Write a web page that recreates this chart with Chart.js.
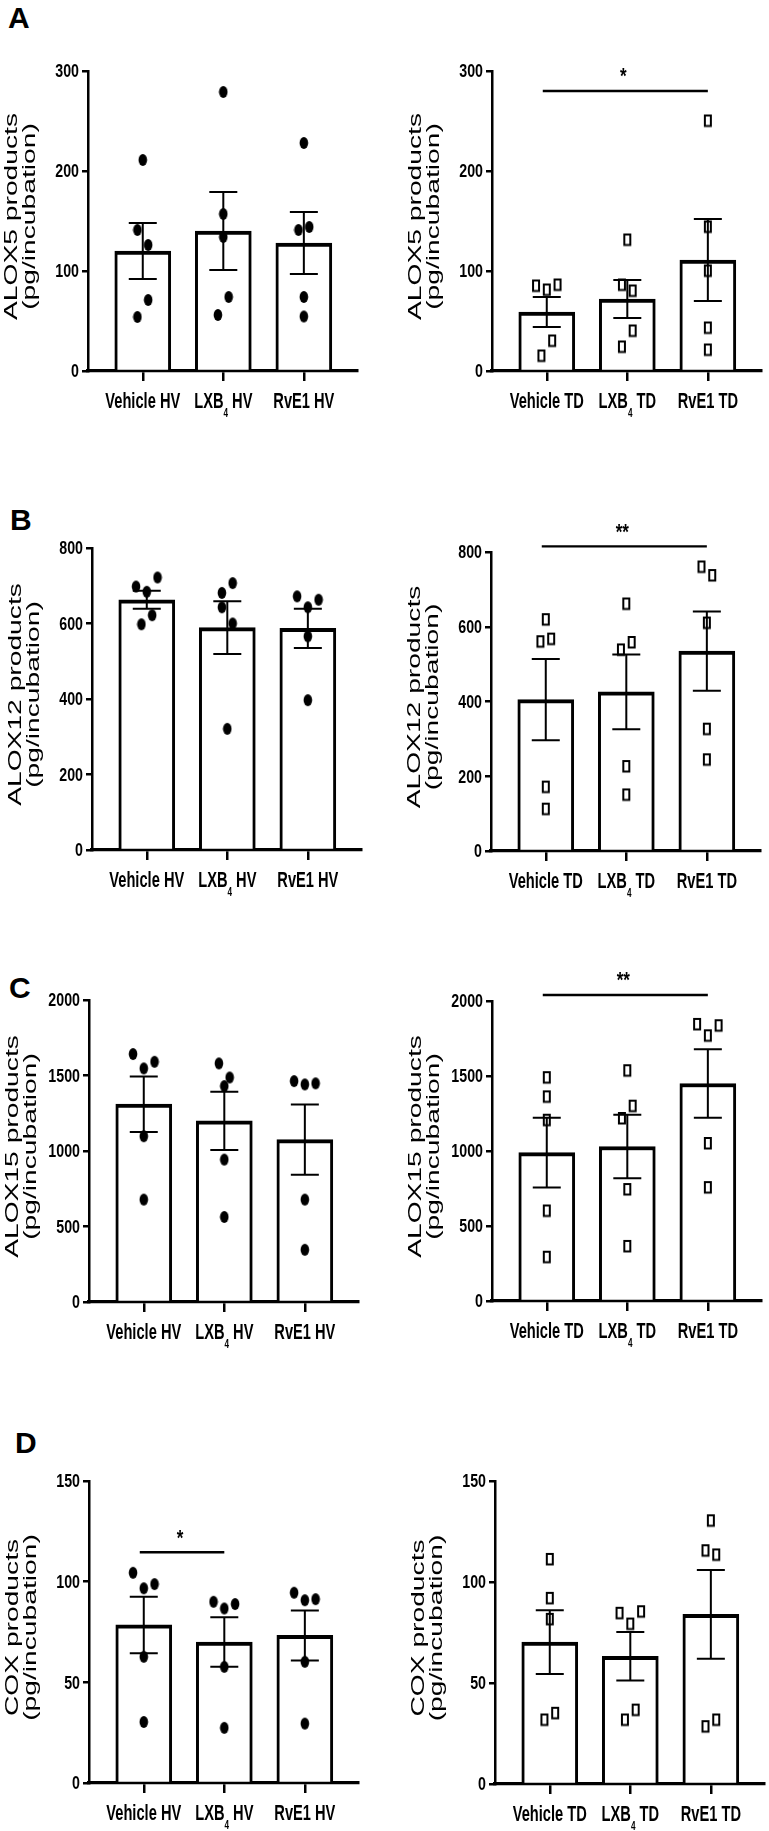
<!DOCTYPE html>
<html>
<head>
<meta charset="utf-8">
<script src="https://cdn.jsdelivr.net/npm/chart.js@4.4.1/dist/chart.umd.min.js"></script>
<style>
html,body{margin:0;padding:0;background:#fff;}
body{width:769px;height:1831px;overflow:hidden;position:relative;}
canvas{position:absolute;}
.lt{position:absolute;font:bold 30px "Liberation Sans",Arial,sans-serif;line-height:30px;color:#000;}
</style>
</head>
<body>
<div class="lt" style="left:8px;top:3px">A</div>
<div class="lt" style="left:10px;top:505px">B</div>
<div class="lt" style="left:9px;top:973px">C</div>
<div class="lt" style="left:15px;top:1428px">D</div>
<script>
// ---------- categories ----------
const hvLabels = ['Vehicle HV', 'LXB₄ HV', 'RvE1 HV'];
const tdLabels = ['Vehicle TD', 'LXB₄ TD', 'RvE1 TD'];

// ---------- y tick labels ----------
const alox5Ticks  = [0, 100, 200, 300];
const alox12Ticks = [0, 200, 400, 600, 800];
const alox15Ticks = [0, 500, 1000, 1500, 2000];
const coxTicks    = [0, 50, 100, 150];

// ---------- A: ALOX5 products ----------
const alox5HvMean   = [120, 140, 128];
const alox5HvSem    = [28, 39, 31];
const alox5HvPoints = [[211, 141, 126, 54, 71], [279, 157, 134, 56, 74], [228, 141, 144, 74, 54.5]];
const alox5HvSig    = [];

const alox5TdMean   = [59, 72, 111];
const alox5TdSem    = [15, 19, 41];
const alox5TdPoints = [[85, 81, 86, 15, 30], [131, 86, 80, 24, 40], [250, 144, 100, 43, 21]];
const alox5TdSig    = [{ from: 0, to: 2, y: 280, label: '*' }];

// ---------- B: ALOX12 products ----------
const alox12HvMean   = [663, 589, 587];
const alox12HvSem    = [24, 70, 52];
const alox12HvPoints = [[698, 684, 722, 598, 622], [681, 707, 643, 600, 321], [672, 643, 663, 566, 397]];
const alox12HvSig    = [];

const alox12TdMean   = [405, 426, 535];
const alox12TdSem    = [109, 100, 106];
const alox12TdPoints = [[619, 560, 567, 171, 112], [661, 538, 558, 226, 150], [760, 737, 610, 326, 244]];
const alox12TdSig    = [{ from: 0, to: 2, y: 815, label: '**' }];

// ---------- C: ALOX15 products ----------
const alox15HvMean   = [1310, 1200, 1075];
const alox15HvSem    = [184, 193, 233];
const alox15HvPoints = [[1642, 1547, 1591, 1098, 678], [1580, 1487, 1430, 943, 563], [1463, 1441, 1448, 678, 346]];
const alox15HvSig    = [];

const alox15TdMean   = [989, 1030, 1450];
const alox15TdSem    = [232, 212, 228];
const alox15TdPoints = [[1489, 1361, 1205, 600, 292], [1535, 1217, 1299, 743, 364], [1844, 1768, 1835, 1050, 756]];
const alox15TdSig    = [{ from: 0, to: 2, y: 2040, label: '**' }];

// ---------- D: COX products ----------
const coxHvMean   = [78.5, 70, 73.3];
const coxHvSem    = [14, 12.3, 12.4];
const coxHvPoints = [[104.4, 96.7, 98.8, 62.7, 30.3], [90, 86.7, 88.9, 57.7, 27.4], [94.5, 90.8, 91.3, 60.2, 29.5]];
const coxHvSig    = [{ from: 0, to: 1, y: 114.6, label: '*' }];

const coxTdMean   = [70.2, 63.2, 84];
const coxTdSem    = [15.8, 12, 22];
const coxTdPoints = [[111.2, 91.9, 81.5, 31.7, 35], [84.5, 79.2, 85.3, 31.7, 36.6], [130.3, 115.5, 113.4, 28.4, 31.7]];
const coxTdSig    = [];

// ---------- y-axis titles ----------
const alox5Title  = ['ALOX5 products', '(pg/incubation)'];
const alox12Title = ['ALOX12 products', '(pg/incubation)'];
const alox15Title = ['ALOX15 products', '(pg/incubation)'];
const coxTitle    = ['COX products', '(pg/incubation)'];

// ---------- layout (plot-area rectangles on the page) ----------
const AREA_W = 270;
const panels = [
  { labels: hvLabels, ticks: alox5Ticks,  mean: alox5HvMean,  sem: alox5HvSem,  points: alox5HvPoints,  sig: alox5HvSig,  title: alox5Title,  marker: 'dot',    left: 88,  top: 71,   h: 300 },
  { labels: tdLabels, ticks: alox5Ticks,  mean: alox5TdMean,  sem: alox5TdSem,  points: alox5TdPoints,  sig: alox5TdSig,  title: alox5Title,  marker: 'square', left: 492, top: 71,   h: 300 },
  { labels: hvLabels, ticks: alox12Ticks, mean: alox12HvMean, sem: alox12HvSem, points: alox12HvPoints, sig: alox12HvSig, title: alox12Title, marker: 'dot',    left: 92,  top: 548,  h: 302 },
  { labels: tdLabels, ticks: alox12Ticks, mean: alox12TdMean, sem: alox12TdSem, points: alox12TdPoints, sig: alox12TdSig, title: alox12Title, marker: 'square', left: 491, top: 552,  h: 299 },
  { labels: hvLabels, ticks: alox15Ticks, mean: alox15HvMean, sem: alox15HvSem, points: alox15HvPoints, sig: alox15HvSig, title: alox15Title, marker: 'dot',    left: 89,  top: 1000, h: 302 },
  { labels: tdLabels, ticks: alox15Ticks, mean: alox15TdMean, sem: alox15TdSem, points: alox15TdPoints, sig: alox15TdSig, title: alox15Title, marker: 'square', left: 492, top: 1001, h: 300 },
  { labels: hvLabels, ticks: coxTicks,    mean: coxHvMean,    sem: coxHvSem,    points: coxHvPoints,    sig: coxHvSig,    title: coxTitle,    marker: 'dot',    left: 89,  top: 1481, h: 302 },
  { labels: tdLabels, ticks: coxTicks,    mean: coxTdMean,    sem: coxTdSem,    points: coxTdPoints,    sig: coxTdSig,    title: coxTitle,    marker: 'square', left: 495, top: 1481, h: 303 }
];

const X_MIN = -0.68, X_MAX = 2.66;
const UNIT_PX = AREA_W / (X_MAX - X_MIN);
const SPREAD_PX = 10.8;      // side-by-side spacing of neighbouring symbols
const CLUSTER_FRAC = 0.0618; // symbols closer than this fraction of the axis height sit side by side
const SANS = '"Liberation Sans", Arial, sans-serif';
const SUBS = '₀₁₂₃₄₅₆₇₈₉';

// column-scatter layout (GraphPad-like): near values are spread horizontally, in data order
function spreadOffsets(vals, yMax) {
  const thr = CLUSTER_FRAC * yMax;
  const step = SPREAD_PX / UNIT_PX;
  const order = vals.map((v, i) => i).sort((a, b) => vals[b] - vals[a]);
  const clusters = [];
  order.forEach(i => {
    const c = clusters[clusters.length - 1];
    if (c && vals[c.top] - vals[i] < thr) c.members.push(i);
    else clusters.push({ top: i, members: [i] });
  });
  const off = vals.map(() => 0);
  clusters.forEach(c => {
    const m = c.members.slice().sort((a, b) => a - b);
    m.forEach((i, k) => { off[i] = (k - (m.length - 1) / 2) * step; });
  });
  return off;
}

function makeMarker(kind) {
  const c = document.createElement('canvas');
  if (kind === 'dot') {
    c.width = 10; c.height = 14;
    const x = c.getContext('2d');
    x.fillStyle = '#000';
    x.beginPath(); x.ellipse(5, 7, 4.3, 6, 0, 0, Math.PI * 2); x.fill();
  } else {
    c.width = 10; c.height = 15;
    const x = c.getContext('2d');
    x.fillStyle = '#fff'; x.fillRect(2, 2, 6, 10.5);
    x.strokeStyle = '#000'; x.lineWidth = 2; x.strokeRect(2, 2, 6, 10.5);
  }
  return c;
}

// category label with real subscript digits (condensed bold look of the figure)
function drawCatLabel(ctx, text, x, y) {
  const segs = [];
  for (const ch of text) {
    const k = SUBS.indexOf(ch);
    const sub = k >= 0;
    const t = sub ? String(k) : ch;
    const last = segs[segs.length - 1];
    if (last && last.sub === sub) last.t += t; else segs.push({ t, sub });
  }
  const fN = 'bold 18px ' + SANS, fS = 'bold 10px ' + SANS;
  ctx.save();
  ctx.translate(x, y);
  ctx.scale(0.814, 1.24);
  ctx.fillStyle = '#000';
  ctx.textAlign = 'left';
  ctx.textBaseline = 'alphabetic';
  let w = 0;
  segs.forEach(s => { ctx.font = s.sub ? fS : fN; s.w = ctx.measureText(s.t).width; w += s.w; });
  let cx = -w / 2;
  segs.forEach(s => { ctx.font = s.sub ? fS : fN; ctx.fillText(s.t, cx, s.sub ? 6.9 : 0); cx += s.w; });
  ctx.restore();
}

function makePlugin(p) {
  return {
    id: 'figExtras',
    afterDatasetsDraw(chart) {
      const ctx = chart.ctx, xs = chart.scales.x, ys = chart.scales.y;
      ctx.save();
      ctx.strokeStyle = '#000'; ctx.lineWidth = 2; ctx.lineCap = 'butt';
      p.mean.forEach((m, i) => {
        const cx = xs.getPixelForValue(i);
        const yt = ys.getPixelForValue(m + p.sem[i]);
        const yb = ys.getPixelForValue(m - p.sem[i]);
        ctx.beginPath();
        ctx.moveTo(cx, yt); ctx.lineTo(cx, yb);
        ctx.moveTo(cx - 14, yt); ctx.lineTo(cx + 14, yt);
        ctx.moveTo(cx - 14, yb); ctx.lineTo(cx + 14, yb);
        ctx.stroke();
      });
      ctx.restore();
    },
    afterDraw(chart) {
      const ctx = chart.ctx, a = chart.chartArea, xs = chart.scales.x, ys = chart.scales.y;
      // y tick labels (bold, condensed)
      ys.ticks.forEach(t => {
        const yy = ys.getPixelForValue(t.value);
        ctx.save();
        ctx.translate(a.left - 9, yy + 6.4);
        ctx.scale(0.79, 1);
        ctx.font = 'bold 18px ' + SANS;
        ctx.textAlign = 'right'; ctx.textBaseline = 'alphabetic'; ctx.fillStyle = '#000';
        ctx.fillText(String(t.value), 0, 0);
        ctx.restore();
      });
      // significance bars
      p.sig.forEach(s => {
        const x1 = xs.getPixelForValue(s.from) - 4, x2 = xs.getPixelForValue(s.to);
        const yy = ys.getPixelForValue(s.y);
        ctx.save();
        ctx.strokeStyle = '#000'; ctx.lineWidth = 2.4;
        ctx.beginPath(); ctx.moveTo(x1, yy); ctx.lineTo(x2, yy); ctx.stroke();
        ctx.translate((x1 + x2) / 2 - 2, yy - 20);
        ctx.scale(1, 1.3);
        ctx.font = 'bold 17px ' + SANS;
        ctx.textAlign = 'center'; ctx.textBaseline = 'alphabetic'; ctx.fillStyle = '#000';
        ctx.fillText(s.label, 0, 9.5);
        ctx.restore();
      });
      // category labels
      p.labels.forEach((lab, i) => drawCatLabel(ctx, lab, xs.getPixelForValue(i), a.bottom + 37));
      // y-axis title
      ctx.save();
      ctx.translate(a.left - 71, (a.top + a.bottom) / 2 - 4.5);
      ctx.rotate(-Math.PI / 2);
      ctx.scale(1.567, 1);
      ctx.font = '18px ' + SANS;
      ctx.textAlign = 'center'; ctx.textBaseline = 'alphabetic'; ctx.fillStyle = '#000';
      ctx.fillText(p.title[0], 0, 0);
      ctx.fillText(p.title[1], 0, 18);
      ctx.restore();
    }
  };
}

const PAD_L = 5, Y_W = 95, PAD_R = 5, PAD_T = 70, X_H = 14, PAD_B = 50;

panels.forEach(p => {
  const cv = document.createElement('canvas');
  const W = PAD_L + Y_W + AREA_W + PAD_R;
  const H = PAD_T + p.h + X_H + PAD_B;
  cv.width = W; cv.height = H;
  cv.style.left = (p.left - PAD_L - Y_W) + 'px';
  cv.style.top = (p.top - PAD_T) + 'px';
  document.body.appendChild(cv);

  const yMax = p.ticks[p.ticks.length - 1];
  const pts = [];
  p.points.forEach((grp, g) => {
    const off = spreadOffsets(grp, yMax);
    grp.forEach((v, k) => pts.push({ x: g + off[k], y: v }));
  });

  new Chart(cv, {
    type: 'bar',
    data: {
      datasets: [
        {
          type: 'bar',
          data: p.mean.map((m, i) => ({ x: i, y: m })),
          backgroundColor: '#fff',
          borderColor: '#000',
          borderWidth: { top: 4, left: 3, right: 3, bottom: 0 },
          borderSkipped: 'start',
          barThickness: 56,
          order: 2
        },
        {
          type: 'scatter',
          data: pts,
          pointStyle: makeMarker(p.marker),
          pointRadius: 5,
          pointHoverRadius: 5,
          order: 1
        }
      ]
    },
    options: {
      responsive: false,
      animation: false,
      events: [],
      layout: { padding: { left: PAD_L, right: PAD_R, top: PAD_T, bottom: PAD_B } },
      plugins: { legend: { display: false }, tooltip: { enabled: false } },
      scales: {
        x: {
          type: 'linear', min: X_MIN, max: X_MAX, offset: false, z: 1,
          afterBuildTicks: ax => { ax.ticks = p.labels.map((_, i) => ({ value: i })); },
          afterFit: ax => { ax.height = X_H; },
          ticks: { display: false },
          grid: { display: true, offset: false, drawOnChartArea: false, drawTicks: true, tickLength: 10, lineWidth: 2.5, color: '#000' },
          border: { display: true, color: '#000', width: 3.3 }
        },
        y: {
          type: 'linear', min: 0, max: yMax, z: 1,
          afterBuildTicks: ax => { ax.ticks = p.ticks.map(v => ({ value: v })); },
          afterFit: ax => { ax.width = Y_W; },
          ticks: { display: false },
          grid: { display: true, drawOnChartArea: false, drawTicks: true, tickLength: 6, lineWidth: 2.5, color: '#000' },
          border: { display: true, color: '#000', width: 2.5 }
        }
      }
    },
    plugins: [makePlugin(p)]
  });
});
</script>
</body>
</html>
